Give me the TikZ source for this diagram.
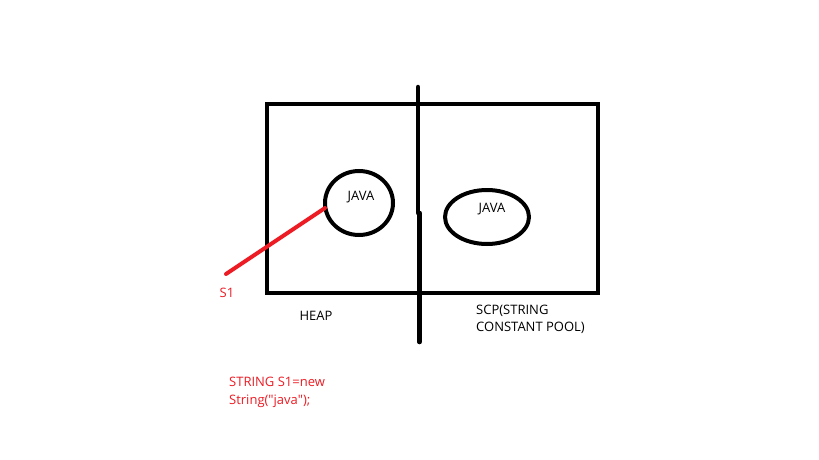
\documentclass[tikz,border=0pt]{standalone}
\usepackage{fontspec}
\setmainfont{Open Sans}[Ligatures=TeXOff]
\definecolor{paintred}{RGB}{237,28,36}
\begin{document}
\begin{tikzpicture}[x=1pt,y=-1pt,
  thick line/.style={line width=4.5pt,black},
  lbl/.style={inner sep=0pt,font=\fontsize{13}{17}\selectfont,text=black},
  redlbl/.style={inner sep=0pt,font=\fontsize{13}{18}\selectfont,text=paintred,align=left}]
\useasboundingbox (0,0) rectangle (819,460);
\fill[white] (0,0) rectangle (819,460);
\draw[thick line] (267,104) rectangle (598,293);
\coordinate (vt) at (418,87);
\coordinate (vm1) at (418,213);
\coordinate (vm2) at (419.5,213);
\coordinate (vb) at (419.5,342);
\draw[thick line,line cap=round] (vt) -- (vm1);
\draw[thick line,line cap=round] (vm2) -- (vb);
\draw[line width=4pt] (359,203) ellipse [x radius=34, y radius=32];
\node[lbl] (j1) at (361,197) {JAVA};
\draw[line width=4pt] (487,217) ellipse [x radius=42, y radius=27];
\node[lbl] (j2) at (492,209) {JAVA};
\coordinate (rs) at (226,274);
\coordinate (re) at (325,208);
\draw[line width=4pt,paintred,line cap=round] (rs) -- (re);
\node[redlbl] (s1) at (227,293) {S1};
\node[lbl] (heap) at (316,316) {HEAP};
\node[lbl,align=left,anchor=west] (scp) at (476,319.5) {SCP(STRING\\CONSTANT POOL)};
\node[redlbl,anchor=west] (code) at (229,392) {STRING S1=new\\String("java");};
\end{tikzpicture}
\end{document}
